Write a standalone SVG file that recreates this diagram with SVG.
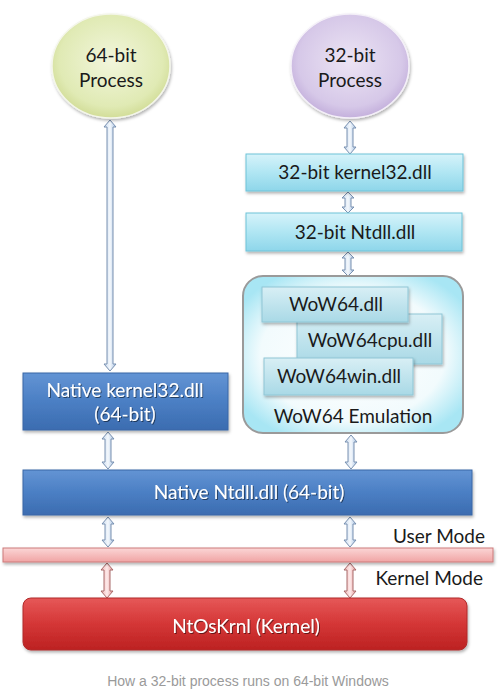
<svg xmlns="http://www.w3.org/2000/svg" width="498" height="692" viewBox="0 0 498 692">
<defs>
<style>
.t{font-family:Lato,"Open Sans","Liberation Sans",sans-serif;font-size:19px;text-anchor:middle;fill:#1a1a1a}
.w{fill:#ffffff;filter:url(#ts)}
.cap{font-family:"Liberation Sans",Arial,sans-serif;font-size:14px;fill:#9a9a9a;text-anchor:middle}
.mode{font-family:Lato,"Open Sans","Liberation Sans",sans-serif;font-size:19px;text-anchor:end;fill:#1a1a1a}
.ab{fill:url(#gArrB);stroke:#7890b0;stroke-width:1}
.ar{fill:url(#gArrR);stroke:#a86a6a;stroke-width:1}
.cy{fill:url(#gCy);stroke:#6ec3d8;stroke-width:1}
.inner{fill:url(#gIn);stroke:#8fc6d6;stroke-width:1;filter:url(#sh)}
.blue{fill:url(#gBlue);stroke:#3a66a6;stroke-width:1;filter:url(#sh)}
</style>
<radialGradient id="gGreen" cx="0.5" cy="0.45" r="0.55">
<stop offset="0" stop-color="#f2f6dc"/><stop offset="0.8" stop-color="#e0eab4"/><stop offset="1" stop-color="#d2dd98"/>
</radialGradient>
<radialGradient id="gPurple" cx="0.5" cy="0.45" r="0.55">
<stop offset="0" stop-color="#ece4f4"/><stop offset="0.8" stop-color="#d6c8e8"/><stop offset="1" stop-color="#c4b0dc"/>
</radialGradient>
<linearGradient id="gCy" x1="0" y1="0" x2="0" y2="1">
<stop offset="0" stop-color="#d6f3fa"/><stop offset="0.5" stop-color="#b0e6f3"/><stop offset="1" stop-color="#8ed6ea"/>
</linearGradient>
<linearGradient id="gIn" x1="0" y1="0" x2="0" y2="1">
<stop offset="0" stop-color="#d8eff5"/><stop offset="1" stop-color="#a9d9e6"/>
</linearGradient>
<radialGradient id="gEmu" cx="0.5" cy="0.5" r="0.6">
<stop offset="0" stop-color="#ffffff"/><stop offset="0.7" stop-color="#f2fbfd"/><stop offset="1" stop-color="#a8e6f4"/>
</radialGradient>
<linearGradient id="gBlue" x1="0" y1="0" x2="0" y2="1">
<stop offset="0" stop-color="#6394d4"/><stop offset="0.5" stop-color="#4b7fc4"/><stop offset="1" stop-color="#3b6cb0"/>
</linearGradient>
<linearGradient id="gRed" x1="0" y1="0" x2="0" y2="1">
<stop offset="0" stop-color="#e65858"/><stop offset="0.5" stop-color="#d43636"/><stop offset="1" stop-color="#bc2222"/>
</linearGradient>
<linearGradient id="gBand" x1="0" y1="0" x2="0" y2="1">
<stop offset="0" stop-color="#fbd6d6"/><stop offset="1" stop-color="#f0a4a4"/>
</linearGradient>
<linearGradient id="gArrB" x1="0" y1="0" x2="1" y2="0">
<stop offset="0" stop-color="#c6d8ee"/><stop offset="0.5" stop-color="#f4f8fc"/><stop offset="1" stop-color="#a9c3e4"/>
</linearGradient>
<linearGradient id="gArrR" x1="0" y1="0" x2="1" y2="0">
<stop offset="0" stop-color="#f0b4b4"/><stop offset="0.5" stop-color="#fdeaea"/><stop offset="1" stop-color="#e89a9a"/>
</linearGradient>
<filter id="sh" x="-10%" y="-20%" width="120%" height="150%">
<feDropShadow dx="1" dy="2" stdDeviation="1.5" flood-color="#000" flood-opacity="0.3"/>
</filter>
<filter id="ts" x="-10%" y="-30%" width="120%" height="160%">
<feDropShadow dx="1" dy="1" stdDeviation="0.6" flood-color="#000" flood-opacity="0.5"/>
</filter>
</defs>
<rect width="498" height="692" fill="#ffffff"/>

<g id="connectors">
<path class="ab" d="M110,120 L116,127 L113,127 L113,364 L116,364 L110,371 L104,364 L107,364 L107,127 L104,127 Z"/>
<path class="ab" d="M350,121 L356,128 L353,128 L353,147 L356,147 L350,154 L344,147 L347,147 L347,128 L344,128 Z"/>
<path class="ab" d="M348,192 L354,198 L351,198 L351,207 L354,207 L348,213 L342,207 L345,207 L345,198 L342,198 Z"/>
<path class="ab" d="M348,252 L354,258 L351,258 L351,270 L354,270 L348,276 L342,270 L345,270 L345,258 L342,258 Z"/>
<path class="ab" d="M108,432 L114,439 L111,439 L111,462 L114,462 L108,469 L102,462 L105,462 L105,439 L102,439 Z"/>
<path class="ab" d="M351,435 L357,442 L354,442 L354,462 L357,462 L351,469 L345,462 L348,462 L348,442 L345,442 Z"/>
<path class="ab" d="M108,517 L114,524 L111,524 L111,540 L114,540 L108,547 L102,540 L105,540 L105,524 L102,524 Z"/>
<path class="ab" d="M350,517 L356,524 L353,524 L353,540 L356,540 L350,547 L344,540 L347,540 L347,524 L344,524 Z"/>
<path class="ar" d="M107,563 L113,570 L110,570 L110,591 L113,591 L107,598 L101,591 L104,591 L104,570 L101,570 Z"/>
<path class="ar" d="M350,563 L356,570 L353,570 L353,591 L356,591 L350,598 L344,591 L347,591 L347,570 L344,570 Z"/>
</g>

<g id="p64">
<ellipse cx="111" cy="66" rx="59" ry="52" fill="url(#gGreen)" stroke="#f4f6ea" stroke-width="1.5" filter="url(#sh)"/>
<text class="t" x="111" y="62">64-bit</text>
<text class="t" x="111" y="87">Process</text>
</g>

<g id="p32">
<ellipse cx="350" cy="66" rx="59" ry="52" fill="url(#gPurple)" stroke="#f4f0f8" stroke-width="1.5" filter="url(#sh)"/>
<text class="t" x="350" y="62">32-bit</text>
<text class="t" x="350" y="87">Process</text>
</g>

<g id="k32">
<rect class="cy" x="246" y="154" width="217" height="37" filter="url(#sh)"/>
<text class="t" x="355" y="179">32-bit kernel32.dll</text>
</g>

<g id="nt32">
<rect class="cy" x="246" y="213" width="216" height="38" filter="url(#sh)"/>
<text class="t" x="355" y="239">32-bit Ntdll.dll</text>
</g>

<g id="wow64emu">
<rect x="243" y="276" width="220" height="157" rx="20" fill="url(#gEmu)" stroke="#9a9a9a" stroke-width="2"/>
<text class="t" x="353" y="423">WoW64 Emulation</text>
</g>

<g id="wow64cpu">
<rect class="inner" x="297" y="314" width="145" height="50"/>
<text class="t" x="370" y="347">WoW64cpu.dll</text>
</g>

<g id="wow64">
<rect class="inner" x="262" y="287" width="146" height="35"/>
<text class="t" x="336" y="311">WoW64.dll</text>
</g>

<g id="wow64win">
<rect class="inner" x="264" y="358" width="149" height="37"/>
<text class="t" x="339" y="383">WoW64win.dll</text>
</g>

<g id="nk32">
<rect class="blue" x="23" y="373" width="205" height="57"/>
<text class="t w" x="125" y="397">Native kernel32.dll</text>
<text class="t w" x="125" y="421">(64-bit)</text>
</g>

<g id="ntdll">
<rect class="blue" x="23" y="470" width="449" height="45"/>
<text class="t w" x="249" y="499">Native Ntdll.dll (64-bit)</text>
</g>

<g id="boundary">
<rect x="3" y="548" width="490" height="14" fill="url(#gBand)" stroke="#cc7a7a" stroke-width="1" filter="url(#sh)"/>
<text class="mode" x="485" y="543">User Mode</text>
<text class="mode" x="483" y="585">Kernel Mode</text>
</g>

<g id="kernel">
<rect x="23" y="598" width="444" height="52" rx="8" fill="url(#gRed)" stroke="#b02a2a" stroke-width="1" filter="url(#sh)"/>
<text class="t w" x="246" y="633">NtOsKrnl (Kernel)</text>
</g>

<text class="cap" x="248" y="686">How a 32-bit process runs on 64-bit Windows</text>
</svg>
